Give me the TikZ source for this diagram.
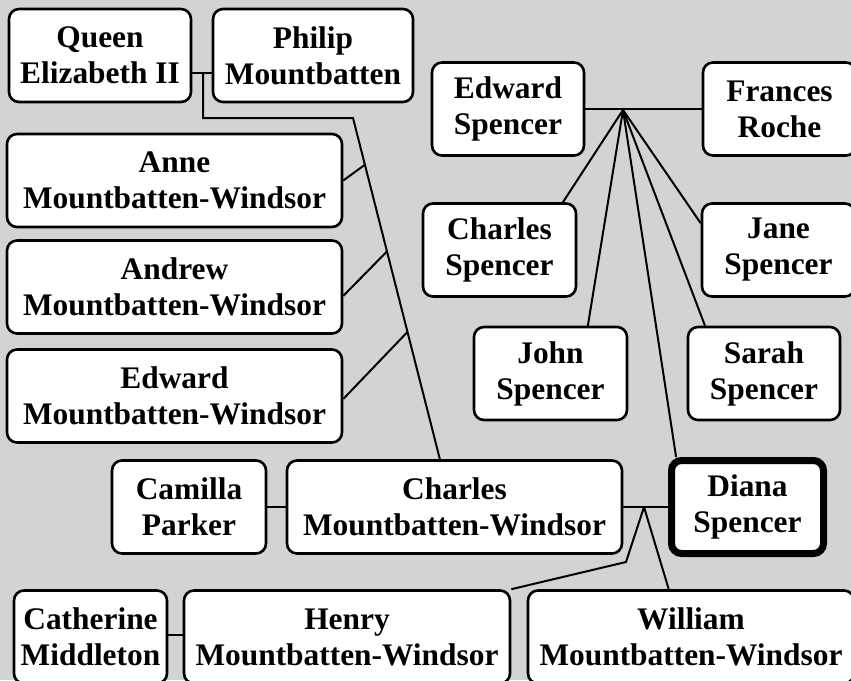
\documentclass[tikz,border=0pt]{standalone}
\usepackage{fontspec}
\setmainfont{Liberation Serif}
\usetikzlibrary{calc}
\definecolor{bggray}{RGB}{211,211,211}
\begin{document}
\begin{tikzpicture}[x=0.5pt, y=-0.5pt,
    person/.style={draw, fill=white, rounded corners=5pt, line width=1.3pt,
        align=center, inner sep=0pt, minimum height=46.5pt,
        font=\bfseries\fontsize{15.7}{18}\selectfont},
    focus/.style={person, line width=3.5pt},
    link/.style={line width=1pt}]
    \clip (0,0) rectangle (851,680);
    \fill[bggray] (0,0) rectangle (851,680);

    \node[person, minimum width=91pt]    (qe)        at (100,55.5)  {Queen\\Elizabeth II};
    \node[person, minimum width=100pt]   (philip)    at (313,55.5)  {Philip\\Mountbatten};
    \node[person, minimum width=167.5pt] (anne)      at (174.5,180.5) {Anne\\Mountbatten-Windsor};
    \node[person, minimum width=167.5pt] (andrew)    at (174.5,287) {Andrew\\Mountbatten-Windsor};
    \node[person, minimum width=167.5pt] (edwardmw)  at (174.5,396) {Edward\\Mountbatten-Windsor};
    \node[person, minimum width=76pt]    (edwards)   at (508,109)   {Edward\\Spencer};
    \node[person, minimum width=76.5pt]  (frances)   at (779.5,109) {Frances\\Roche};
    \node[person, minimum width=76.5pt]  (charless)  at (499.5,250) {Charles\\Spencer};
    \node[person, minimum width=76.5pt]  (jane)      at (778.5,250) {Jane\\Spencer};
    \node[person, minimum width=76.5pt]  (john)      at (550.5,373.5) {John\\Spencer};
    \node[person, minimum width=76pt]    (sarah)     at (764,373.5) {Sarah\\Spencer};
    \node[person, minimum width=77pt]    (camilla)   at (189,507)   {Camilla\\Parker};
    \node[person, minimum width=167.5pt] (charlesmw) at (454.5,507) {Charles\\Mountbatten-Windsor};
    \node[focus,  minimum width=76pt]    (diana)     at (747.5,507) {Diana\\Spencer};
    \node[person, minimum width=76.5pt]  (catherine) at (90.5,637)  {Catherine\\Middleton};
    \node[person, minimum width=163pt]   (henry)     at (347,637)   {Henry\\Mountbatten-Windsor};
    \node[person, minimum width=163pt]   (william)   at (691,637)   {William\\Mountbatten-Windsor};

    \coordinate (qpj) at (203,73);
    \coordinate (qpk) at (353,118);
    \coordinate (sj)  at (623,110);
    \coordinate (cdj) at (644,507);
    \draw[link] (qpj -| qe.east) -- (qpj -| philip.west);
    \draw[link] (qpj) -- (203,118) -- (qpk) -- (charlesmw.107);
    \draw[link] (anne.east) -- ($(qpk)!0.137!(charlesmw.107)$);
    \draw[link] (andrew.-3) -- ($(qpk)!0.391!(charlesmw.107)$);
    \draw[link] (edwardmw.-1) -- ($(qpk)!0.627!(charlesmw.107)$);

    \draw[link] (edwards.east) -- (frances.west);
    \draw[link] (sj) -- (charless.37);
    \draw[link] (sj) -- (john.52);
    \draw[link] (sj) -- (diana.145);
    \draw[link] (sj) -- (sarah.141);
    \draw[link] (sj) -- (jane.161);

    \draw[link] (camilla.east) -- (charlesmw.west);
    \draw[link] (charlesmw.east) -- (diana.west);
    \draw[link] (cdj) -- (626,562) -- (henry.north east);
    \draw[link] (cdj) -- (william.115);
    \draw[link] (catherine.east |- 0,635) -- (henry.west |- 0,635);
\end{tikzpicture}
\end{document}
